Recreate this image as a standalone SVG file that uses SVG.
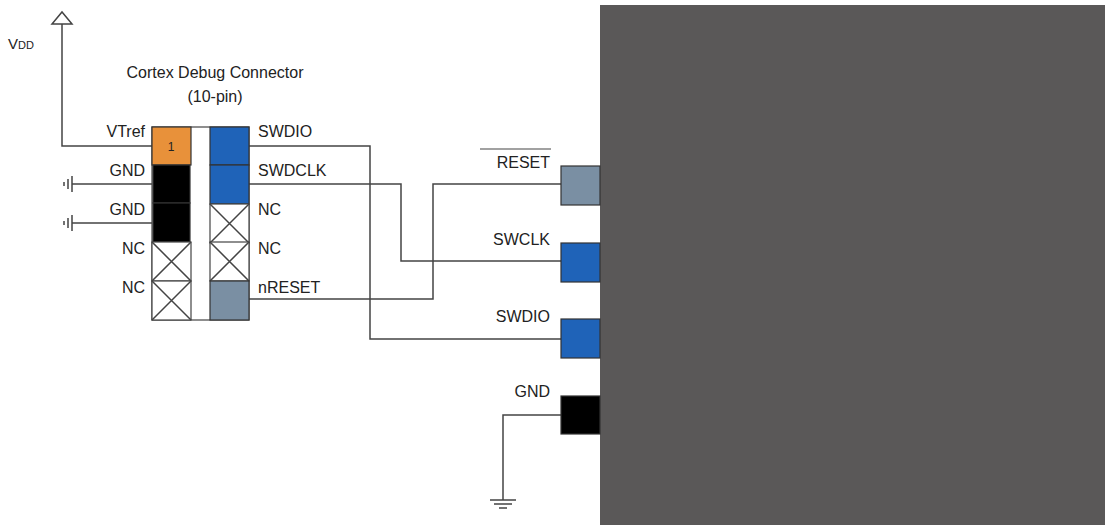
<svg xmlns="http://www.w3.org/2000/svg" width="1110" height="529" viewBox="0 0 1110 529">
<style>
text{font-family:"Liberation Sans",Arial,sans-serif;font-size:16px;fill:#222}
.w{fill:none;stroke:#444;stroke-width:1.5}
.pin{stroke:#333;stroke-width:1.2}
.nc{fill:#fff;stroke:#444;stroke-width:1.2}
.r{text-anchor:end}
</style>
<defs>
<g id="x"><rect class="nc" x="0" y="0" width="39" height="39"/><path class="w" d="M0 0L39 39M39 0L0 39"/></g>
</defs>
<rect width="1110" height="529" fill="#fff"/>
<g id="chip"><rect x="600" y="5" width="505" height="520" fill="#5a5858"/></g>
<g id="connectors">
<path class="w" d="M62 24V146H152"/>
<polygon points="52,24 72,24 62,12" fill="#fff" stroke="#444" stroke-width="1.5"/>
<path class="w" d="M72 184H153M72 223H153"/>
<path class="w" d="M72 176V192M68 179V189M64 182V186M72 215V231M68 218V228M64 221V225"/>
<path class="w" d="M249 146H370V339H561"/>
<path class="w" d="M249 184H401V261H561"/>
<path class="w" d="M249 299H433V184H561"/>
<path class="w" d="M561 415H503V500M490 500H516M494 504H512M499 508H507"/>
</g>
<g id="connector10">
<text x="215" y="78" text-anchor="middle">Cortex Debug Connector</text>
<text x="215" y="102" text-anchor="middle">(10-pin)</text>
<rect x="152" y="127" width="97" height="193" fill="#fff" stroke="#444" stroke-width="1.2"/>
<rect class="pin" x="152" y="127" width="39" height="38" fill="#e8913a"/>
<text x="171" y="151" text-anchor="middle" font-size="12" style="font-size:12px">1</text>
<rect class="pin" x="153" y="165" width="37" height="38" fill="#000"/>
<rect class="pin" x="153" y="203" width="37" height="39" fill="#000"/>
<use href="#x" x="152" y="242"/><use href="#x" x="152" y="281"/>
<rect class="pin" x="210" y="127" width="39" height="38" fill="#1f63b8"/>
<rect class="pin" x="210" y="165" width="39" height="39" fill="#1f63b8"/>
<use href="#x" x="210" y="204"/><use href="#x" x="210" y="242"/>
<rect class="pin" x="210" y="281" width="39" height="39" fill="#7a8fa3"/>
<text class="r" x="145" y="137">VTref</text>
<text class="r" x="145" y="176">GND</text>
<text class="r" x="145" y="215">GND</text>
<text class="r" x="145" y="254">NC</text>
<text class="r" x="145" y="293">NC</text>
<text x="258" y="137">SWDIO</text>
<text x="258" y="176">SWDCLK</text>
<text x="258" y="215">NC</text>
<text x="258" y="254">NC</text>
<text x="258" y="293">nRESET</text>
</g>
<g id="vdd"><text x="8" y="49" style="font-size:15px">V<tspan style="font-size:11px">DD</tspan></text></g>
<g id="pins">
<rect class="pin" x="561" y="166" width="39" height="39" fill="#7a8fa3"/>
<rect class="pin" x="561" y="243" width="39" height="39" fill="#1f63b8"/>
<rect class="pin" x="561" y="319" width="39" height="39" fill="#1f63b8"/>
<rect class="pin" x="561" y="396" width="39" height="38" fill="#000"/>
<text class="r" x="550" y="168">RESET</text>
<path d="M480 149H551" stroke="#444" stroke-width="1.2"/>
<text class="r" x="550" y="245">SWCLK</text>
<text class="r" x="550" y="322">SWDIO</text>
<text class="r" x="550" y="397">GND</text>
</g>
</svg>
